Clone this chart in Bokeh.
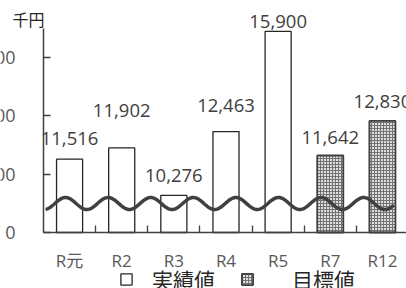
import numpy as np
from bokeh.plotting import figure
from bokeh.models import (Range1d, FixedTicker, ColumnDataSource, LabelSet, Label,
                          Legend, LegendItem, GlobalInlineStyleSheet)
from bokeh.core.properties import value
from bokeh.embed import file_html
from bokeh.resources import INLINE

# ---------------- data ----------------
categories = ["R元", "R2", "R3", "R4", "R5", "R7", "R12"]
actual_categories = ["R元", "R2", "R3", "R4", "R5"]
actual_values = [11516, 11902, 10276, 12463, 15900]      # 実績値
target_categories = ["R7", "R12"]
target_values = [11642, 12830]                            # 目標値
y_ticks = [9000, 11000, 13000, 15000]
y_tick_labels = ["0", "11,000", "13,000", "15,000"]     # broken axis: bottom shown as 0
unit_label = "千円"
legend_labels = ["実績値", "目標値"]

# ---------------- layout / style ----------------
W, H = 406, 288                 # canvas (frame fills it; axes are placed inside)
AXIS_X_PX, AXIS_Y_PX = 43, 232  # screen position of the axes' corner
CAT_PX = 52.14                  # width of one category in px
Y_AXIS_MIN, Y_AXIS_MAX = 9000, 16000
PPU = 204 / (Y_AXIS_MAX - Y_AXIS_MIN)   # px per value unit
label_gap_px = [21, 37, 20, 26, 10, 18, 19]   # data label distance above bar top
NUM_FONT = "Open Sans"
JP_FONT = "Noto Sans CJK JP"
MIX_FONT = "Open Sans, Noto Sans CJK JP"

x0 = -0.5 - AXIS_X_PX / CAT_PX
y0 = Y_AXIS_MIN - (H - AXIS_Y_PX) / PPU
p = figure(frame_width=W, frame_height=H,
           min_border_left=0, min_border_right=0, min_border_top=0, min_border_bottom=0,
           x_range=Range1d(x0, x0 + W / CAT_PX),
           y_range=Range1d(y0, y0 + H / PPU),
           output_backend="svg", toolbar_location=None)
p.outline_line_color = None
p.grid.visible = False
p.background_fill_color = "white"
p.border_fill_color = "white"

xi = {c: i for i, c in enumerate(categories)}

# bars
src_a = ColumnDataSource(dict(x=[xi[c] for c in actual_categories], top=actual_values))
src_t = ColumnDataSource(dict(x=[xi[c] for c in target_categories], top=target_values))
r_act = p.vbar(x="x", top="top", bottom=Y_AXIS_MIN, width=0.5, source=src_a,
               fill_color="white", line_color="#262626", line_width=1.3)
r_tgt = p.vbar(x="x", top="top", bottom=Y_AXIS_MIN, width=0.5, source=src_t,
               fill_color="#dedede", line_color="#404040", line_width=1.8,
               hatch_pattern="cross", hatch_color="#737373", hatch_scale=3, hatch_weight=1)

# axis break marker (wave)
wave_x = np.linspace(-0.46, 6.22, 400)
wave_peak, wave_period = -0.078, 0.817
wave_center = Y_AXIS_MIN + 29 / PPU
wave_amp = 6 / PPU
wave_y = wave_center + wave_amp * np.cos(2 * np.pi * (wave_x - wave_peak) / wave_period)
p.line(wave_x, wave_y, line_color="#404040", line_width=3.5)

# data labels
all_vals = actual_values + target_values
all_cats = actual_categories + target_categories
lab_src = ColumnDataSource(dict(
    x=[xi[c] for c in all_cats],
    y=[v + g / PPU for v, g in zip(all_vals, label_gap_px)],
    text=[f"{v:,}" for v in all_vals]))
p.add_layout(LabelSet(x="x", y="y", text="text", source=lab_src,
                      text_align="center", text_baseline="middle",
                      text_font=value(NUM_FONT), text_font_size="18.5px",
                      text_color="#404040"))

# unit label
p.add_layout(Label(x=-0.5 - 31 / CAT_PX, y=Y_AXIS_MAX - 2 / PPU, text=unit_label,
                   text_align="left", text_baseline="bottom",
                   text_font=JP_FONT, text_font_size="16px", text_color="#262626"))

# x axis (drawn inside the frame at the value 9000)
xa = p.xaxis[0]
xa.fixed_location = Y_AXIS_MIN
xa.bounds = (-0.5, len(categories) - 0.5)
xa.ticker = FixedTicker(ticks=list(range(len(categories))),
                        minor_ticks=[i + 0.5 for i in range(len(categories) - 1)])
xa.major_label_overrides = {i: c for i, c in enumerate(categories)}
xa.major_tick_line_color = None
xa.minor_tick_in = 7
xa.minor_tick_out = 0
xa.minor_tick_line_color = "#404040"
xa.minor_tick_line_width = 1.3
xa.axis_line_color = "#404040"
xa.axis_line_width = 1.5
xa.major_label_standoff = 10
xa.major_label_text_font = MIX_FONT
xa.major_label_text_font_size = "17px"
xa.major_label_text_color = "#595959"

# y axis (drawn inside the frame at x = -0.5)
ya = p.yaxis[0]
ya.fixed_location = -0.5
ya.bounds = (Y_AXIS_MIN, Y_AXIS_MAX)
ya.ticker = FixedTicker(ticks=y_ticks)
ya.major_label_overrides = dict(zip(y_ticks, y_tick_labels))
ya.major_tick_in = 7
ya.major_tick_out = 0
ya.major_tick_line_color = "#404040"
ya.major_tick_line_width = 1.3
ya.minor_tick_line_color = None
ya.axis_line_color = "#404040"
ya.axis_line_width = 1.5
ya.major_label_standoff = 28
ya.major_label_text_font = NUM_FONT
ya.major_label_text_font_size = "18px"
ya.major_label_text_color = "#595959"

# legends
def make_legend(label, rend, loc, standoff):
    return Legend(items=[LegendItem(label=label, renderers=[rend])], location=loc,
                  orientation="horizontal", padding=0, margin=0, spacing=0,
                  border_line_color=None, background_fill_alpha=0,
                  glyph_width=14, glyph_height=14, label_standoff=standoff,
                  label_height=14, label_text_font=JP_FONT, label_text_font_size="21px",
                  label_text_color="#262626")

p.add_layout(make_legend(legend_labels[0], r_act, (119, -6), 19))
p.add_layout(make_legend(legend_labels[1], r_tgt, (240, -6), 38))

p.stylesheets = [GlobalInlineStyleSheet(css="html, body { overflow: hidden; }")]

open("out.html", "w").write(file_html(p, INLINE))
